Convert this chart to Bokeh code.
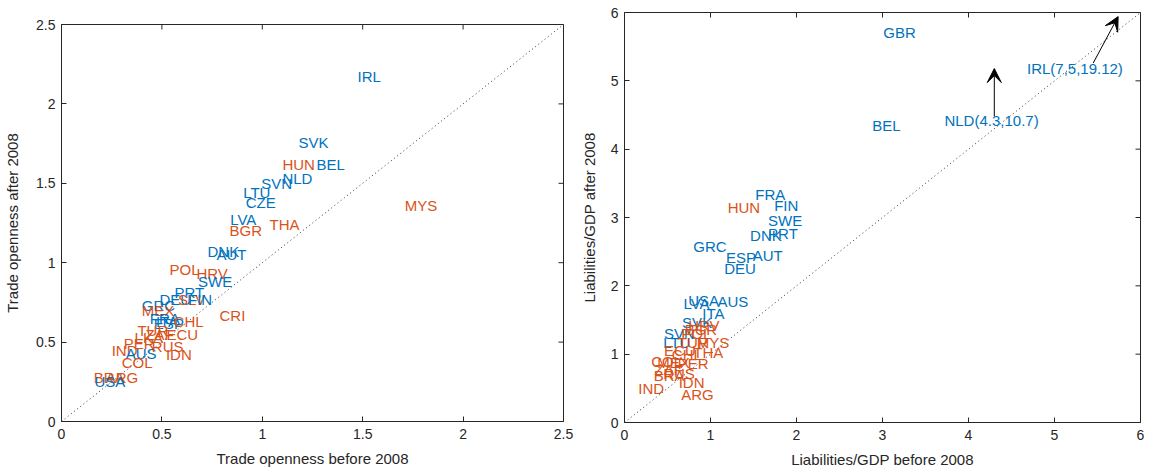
import math
from bokeh.plotting import figure
from bokeh.layouts import row, column
from bokeh.models import ColumnDataSource, FixedTicker, Range1d, Arrow, VeeHead
from bokeh.core.properties import value
from bokeh.embed import file_html
from bokeh.resources import INLINE

BLUE = "#0072BD"
ORANGE = "#D95319"
AXIS_COLOR = "#262626"
FONT = "Liberation Sans"

# ---- Trade openness (A = advanced, E = emerging) ----
trade_codes = ["IRL", "SVK", "HUN", "BEL", "NLD", "SVN", "LTU", "CZE", "LVA", "BGR",
               "THA", "MYS", "DNK", "AUT", "POL", "HRV", "SWE", "PRT", "DEU", "SLV",
               "FIN", "CRI", "GRC", "MEX", "FRA", "ESP", "ITA", "CHL", "TUR", "ZAF",
               "ECU", "LKA", "PER", "IND", "AUS", "RUS", "IDN", "COL", "ARG", "BRA", "USA"]
trade_before = [1.474, 1.18, 1.10, 1.27, 1.10, 0.995, 0.905, 0.917, 0.84, 0.837,
                1.036, 1.71, 0.727, 0.772, 0.538, 0.672, 0.68, 0.563, 0.488, 0.58,
                0.63, 0.787, 0.40, 0.40, 0.44, 0.46, 0.47, 0.558, 0.378, 0.418,
                0.523, 0.364, 0.31, 0.25, 0.32, 0.45, 0.52, 0.30, 0.22, 0.16, 0.164]
trade_after = [2.17, 1.76, 1.62, 1.62, 1.53, 1.50, 1.44, 1.38, 1.27, 1.20,
               1.24, 1.36, 1.07, 1.05, 0.96, 0.93, 0.88, 0.81, 0.77, 0.77,
               0.77, 0.67, 0.73, 0.70, 0.65, 0.62, 0.63, 0.63, 0.57, 0.55,
               0.55, 0.53, 0.49, 0.45, 0.43, 0.47, 0.42, 0.37, 0.28, 0.28, 0.25]
trade_group = ["A", "A", "E", "A", "A", "A", "A", "A", "A", "E",
               "E", "E", "A", "A", "E", "E", "A", "A", "A", "E",
               "A", "E", "A", "E", "A", "A", "A", "E", "E", "E",
               "E", "E", "E", "E", "A", "E", "E", "E", "E", "E", "A"]

# ---- Liabilities / GDP ----
liab_codes = ["GBR", "BEL", "FRA", "FIN", "HUN", "SWE", "PRT", "DNK", "GRC", "ESP",
              "AUT", "DEU", "LVA", "USA", "AUS", "ITA", "SVK", "SVN", "HRV", "BGR",
              "POL", "LTU", "TUR", "MYS", "ECU", "CHL", "THA", "COL", "MEX", "PER",
              "ZAF", "BRA", "RUS", "IDN", "IND", "ARG"]
liab_before = [3.01, 2.88, 1.52, 1.74, 1.20, 1.67, 1.67, 1.46, 0.80, 1.18,
               1.49, 1.16, 0.685, 0.74, 1.08, 0.905, 0.67, 0.46, 0.74, 0.70,
               0.66, 0.45, 0.62, 0.84, 0.46, 0.55, 0.80, 0.31, 0.38, 0.62,
               0.35, 0.34, 0.45, 0.63, 0.16, 0.66]
liab_after = [5.71, 4.35, 3.33, 3.18, 3.15, 2.95, 2.77, 2.73, 2.57, 2.42,
              2.44, 2.25, 1.74, 1.78, 1.77, 1.59, 1.46, 1.30, 1.42, 1.36,
              1.30, 1.17, 1.17, 1.17, 1.05, 1.00, 1.02, 0.90, 0.88, 0.86,
              0.78, 0.69, 0.72, 0.58, 0.50, 0.41]
liab_group = ["A", "A", "A", "A", "E", "A", "A", "A", "A", "A",
              "A", "A", "A", "A", "A", "A", "A", "A", "E", "E",
              "E", "A", "E", "E", "E", "E", "E", "E", "E", "E",
              "E", "E", "E", "E", "E", "E"]

# Off-scale countries: label position and arrow pointing out of the frame
outlier_text = ["NLD(4.3,10.7)", "IRL(7,5,19.12)"]
outlier_x = [3.72, 4.68]
outlier_y = [4.42, 5.18]
arrow_x0 = [4.30, 5.45]
arrow_y0 = [4.48, 5.26]
arrow_x1 = [4.30, 5.74]
arrow_y1 = [5.18, 5.94]

trade_ticks = [0, 0.5, 1, 1.5, 2, 2.5]
trade_tick_labels = ["0", "0.5", "1", "1.5", "2", "2.5"]
liab_ticks = [0, 1, 2, 3, 4, 5, 6]
liab_tick_labels = ["0", "1", "2", "3", "4", "5", "6"]

TICK_LEN = 5


def style_axis(ax, ticks, labels):
    ax.ticker = FixedTicker(ticks=ticks)
    ax.major_label_overrides = {t: l for t, l in zip(ticks, labels)}
    ax.major_tick_in = TICK_LEN
    ax.major_tick_out = 0
    ax.minor_tick_line_color = None
    ax.axis_line_color = AXIS_COLOR
    ax.major_tick_line_color = AXIS_COLOR
    ax.major_label_text_color = AXIS_COLOR
    ax.major_label_text_font = FONT
    ax.major_label_text_font_size = "14px"
    ax.axis_label_text_font = FONT
    ax.axis_label_text_font_style = "normal"
    ax.axis_label_text_color = AXIS_COLOR
    ax.axis_label_text_font_size = "15px"


def panel(width, borders, xmax, ymax, ticks, labels, xlabel, ylabel,
          codes, xs, ys, groups, ylab_standoff):
    left, right, top, bottom = borders
    p = figure(width=width, height=471, output_backend="svg", toolbar_location=None,
               title=None,
               x_range=Range1d(0, xmax), y_range=Range1d(0, ymax),
               min_border_left=left, min_border_right=right,
               min_border_top=top, min_border_bottom=bottom)
    p.xgrid.grid_line_color = None
    p.ygrid.grid_line_color = None
    p.outline_line_color = AXIS_COLOR
    p.background_fill_color = "white"
    p.border_fill_color = "white"

    style_axis(p.xaxis[0], ticks, labels)
    style_axis(p.yaxis[0], ticks, labels)
    p.xaxis[0].axis_label = xlabel
    p.yaxis[0].axis_label = ylabel
    p.xaxis[0].major_label_standoff = 7
    p.xaxis[0].axis_label_standoff = 8
    p.yaxis[0].major_label_standoff = 6
    p.yaxis[0].axis_label_standoff = ylab_standoff

    # inward ticks on the top and right edges of the box
    p.ray(x=ticks, y=[ymax] * len(ticks), length=TICK_LEN, length_units="screen",
          angle=-math.pi / 2, line_color=AXIS_COLOR, line_width=1)
    p.ray(x=[xmax] * len(ticks), y=ticks, length=TICK_LEN, length_units="screen",
          angle=math.pi, line_color=AXIS_COLOR, line_width=1)

    # 45-degree reference line
    p.line([0, xmax], [0, ymax], line_color="#333333", line_width=1, line_dash="1 3")

    src = ColumnDataSource(dict(
        x=xs, y=ys, code=codes,
        color=[BLUE if g == "A" else ORANGE for g in groups]))
    p.text(x="x", y="y", text="code", source=src, text_color="color",
           text_font=value(FONT), text_font_size="15px",
           text_align="left", text_baseline="middle")
    return p


p1 = panel(577, (61, 14, 24, 50), 2.5, 2.5, trade_ticks, trade_tick_labels,
           "Trade openness before 2008", "Trade openness after 2008",
           trade_codes, trade_before, trade_after, trade_group, 12)

p2 = panel(569, (44, 6, 12, 49), 6, 6, liab_ticks, liab_tick_labels,
           "Liabilities/GDP before 2008", "Liabilities/GDP after 2008",
           liab_codes, liab_before, liab_after, liab_group, 10)

out_src = ColumnDataSource(dict(x=outlier_x, y=outlier_y, t=outlier_text))
p2.text(x="x", y="y", text="t", source=out_src, text_color=BLUE,
        text_font=value(FONT), text_font_size="15px",
        text_align="left", text_baseline="middle")
for xa, ya, xb, yb in zip(arrow_x0, arrow_y0, arrow_x1, arrow_y1):
    p2.add_layout(Arrow(end=VeeHead(size=14, fill_color="black", line_color="black"),
                        x_start=xa, y_start=ya, x_end=xb, y_end=yb,
                        line_color="black", line_width=1))

# each panel keeps its own borders
layout = row(column(p1), column(p2), spacing=0)
open("out.html", "w").write(file_html(layout, INLINE))
